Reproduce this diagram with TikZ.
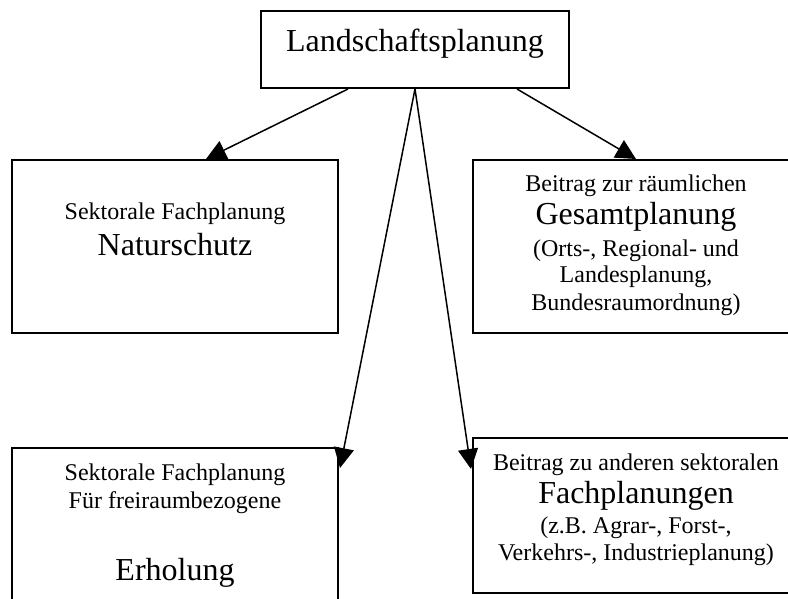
\documentclass[tikz,border=0pt]{standalone}
\usepackage{fontspec}
\setmainfont{Liberation Serif}
\usetikzlibrary{arrows.meta,calc}

\tikzset{
  box/.style={draw, line width=2pt, rectangle, inner sep=0pt},
  txts/.style={font=\fontsize{24}{28}\selectfont, anchor=base, inner sep=0pt},
  txtl/.style={font=\fontsize{32}{37}\selectfont, anchor=base, inner sep=0pt},
  link/.style={line width=1.5pt, -{Triangle[length=20pt,width=20pt]}}
}

\begin{document}
\begin{tikzpicture}[x=1pt, y=-1pt]
  % page frame; the two right boxes and the lower left box run past it
  \clip (0,0) rectangle (788,599);

  % boxes
  \node[box, minimum width=308pt, minimum height=77pt]  (top)      at (415,49.5)  {};
  \node[box, minimum width=326pt, minimum height=173pt] (natur)    at (175,246.5) {};
  \node[box, minimum width=326pt, minimum height=173pt] (gesamt)   at (636,246.5) {};
  \node[box, minimum width=326pt, minimum height=175pt] (erholung) at (175,535.5) {};
  \node[box, minimum width=326pt, minimum height=155pt] (fach)     at (636,515.5) {};

  % texts
  \node[txtl] (tTop) at (415,52) {Landschaftsplanung};

  \node[txts] (n1) at (175,220) {Sektorale Fachplanung};
  \node[txtl] (n2) at (175,255) {Naturschutz};

  \node[txts] (g1) at (636,192) {Beitrag zur räumlichen};
  \node[txtl] (g2) at (636,225) {Gesamtplanung};
  \node[txts] (g3) at (636,257) {(Orts-, Regional- und};
  \node[txts] (g4) at (636,283) {Landesplanung,};
  \node[txts] (g5) at (636,310) {Bundesraumordnung)};

  \node[txts] (e1) at (175,480) {Sektorale Fachplanung};
  \node[txts] (e2) at (175,508) {Für freiraumbezogene};
  \node[txtl] (e3) at (175,580) {Erholung};

  \node[txts] (f1) at (636,470) {Beitrag zu anderen sektoralen};
  \node[txtl] (f2) at (636,503) {Fachplanungen};
  \node[txts] (f3) at (636,533) {(z.B. Agrar-, Forst-,};
  \node[txts] (f4) at (636,560) {Verkehrs-, Industrieplanung)};

  % connector end points on the box borders
  \coordinate (sL) at ($(top.south west)+(88,0)$);
  \coordinate (sM) at (top.south);
  \coordinate (sR) at ($(top.south west)+(257,0)$);
  \coordinate (eN) at ($(natur.north west)+(195,0)$);
  \coordinate (eG) at (gesamt.north);
  \coordinate (eE) at ($(erholung.north east)+(1,21)$);
  \coordinate (eF) at ($(fach.north west)+(-1,32)$);

  % connectors
  \draw[link] (sL) -- (eN);
  \draw[link] (sR) -- (eG);
  \draw[link] (sM) -- (eE);
  \draw[link] (sM) -- (eF);
\end{tikzpicture}
\end{document}
